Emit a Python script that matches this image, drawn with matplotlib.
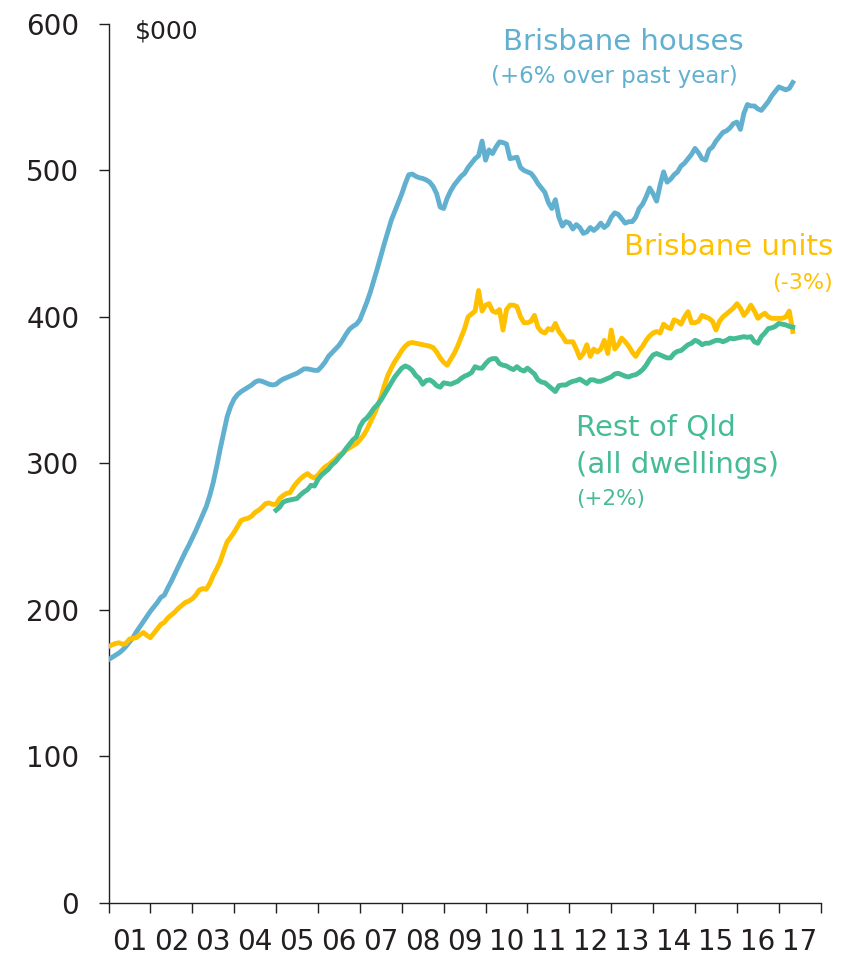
# plot.py
# Queensland median dwelling prices: Brisbane houses, Brisbane units, rest of Qld
import numpy as np
import matplotlib.pyplot as plt

plt.rcParams['font.family'] = ['DejaVu Sans']

# ── Data ($000, monthly, Jan 2001 – May 2017) ──
start_year = 2001
houses = [
    166, 167.5, 169, 170.5, 172.5, 175, 178, 181, 185, 188.5, 192, 195.5,          # 2001
    199, 202, 205, 208.5, 210, 215, 219.5, 224.5, 229.5, 234.5, 239.5, 244,        # 2002
    249, 254, 259.5, 265, 270.5, 278, 287, 298, 310, 321, 332, 339,                # 2003
    344, 347, 349, 350.5, 352, 353.5, 355.5, 356.5, 356, 355, 354, 353.5,          # 2004
    354, 356, 357.5, 358.5, 359.5, 360.5, 361.5, 363, 364.5, 364.5, 364, 363.5,    # 2005
    363.5, 366, 369, 373, 375.5, 378, 380.5, 384, 388, 391.5, 393.5, 395,          # 2006
    398, 404, 410, 417, 425, 433, 441.5, 450, 458, 466, 472, 478,                  # 2007
    484, 491, 497, 497.5, 496, 495, 494.5, 493.5, 492, 489, 484, 475,              # 2008
    474, 481, 486, 490, 493, 496, 498, 502, 505, 508, 510, 520,                    # 2009
    507, 514, 511.5, 516, 519.5, 519, 518, 508, 508.5, 509, 502, 500,              # 2010
    499, 498, 495, 491, 488, 485, 478, 474, 480, 468, 462, 465,                    # 2011
    464, 460, 463, 461, 457, 458, 461, 459, 461, 464, 461, 463,                    # 2012
    468, 471, 470, 467, 464, 465, 465, 468, 474, 477, 482, 488,                    # 2013
    484, 479, 490, 499, 492, 494, 497, 499, 503, 505, 508, 511,                    # 2014
    515, 512, 508, 507, 514, 516, 520, 523, 526, 527, 529, 532,                    # 2015
    533, 528, 539, 545, 544, 544, 542, 541, 544, 547, 551, 554,                    # 2016
    557, 556, 555, 556, 560,                                                       # 2017
]
units = [
    175, 176, 177, 177.5, 176.5, 177, 180, 180.5, 181, 183, 184.5, 182.5,          # 2001
    181, 184, 187, 190, 191.5, 194.5, 196.5, 198.5, 201, 203, 205, 206,            # 2002
    207.5, 210, 213.5, 214.5, 214, 218, 223.5, 228, 233, 240, 246.5, 249.5,        # 2003
    253, 257, 261, 262, 262.5, 264, 266.5, 268, 270, 272.5, 273, 272,              # 2004
    272, 276, 278, 279.5, 280, 284, 287, 289.5, 291.5, 293, 291, 290,              # 2005
    292, 295, 297.5, 299, 301, 303, 305.5, 307, 309, 310.5, 312, 313.5,            # 2006
    316, 319, 323, 328, 333, 338.5, 345, 353, 360, 365, 369.5, 373,                # 2007
    377, 380, 382, 382.5, 382, 381.5, 381, 380.5, 380, 379, 376, 372,              # 2008
    369, 367, 371, 375, 380, 386, 392, 400, 402, 404, 418, 404,                    # 2009
    408, 409, 404, 403, 405, 391, 405, 408, 408, 407, 400, 396,                    # 2010
    396, 397, 401, 393, 390, 389, 392, 391, 395.5, 390, 387, 383,                  # 2011
    383, 383, 378, 372, 375, 381, 373, 378, 376, 378, 384, 375,                    # 2012
    391, 378, 381, 385.5, 383, 380, 376, 373, 377, 380, 384, 387,                  # 2013
    389, 390, 389, 395, 393, 392, 398, 397, 395, 400, 403.5, 396,                  # 2014
    396, 397, 401, 400, 399, 397, 391, 397, 400, 402, 404, 406,                    # 2015
    409, 406, 401, 404, 408, 404, 399, 401, 402.5, 400, 399, 399,                  # 2016
    399, 399, 400, 404, 390,                                                       # 2017
]
# Rest of Qld series begins Jan 2005
rest_start_year = 2005
rest_qld = [
    268, 270, 273.5, 274.5, 275, 275.5, 276, 278.5, 280.5, 282, 285, 284.5,        # 2005
    289, 292, 294, 296, 299, 301, 304, 306.5, 310, 313, 316, 318,                  # 2006
    325, 329, 331, 334, 337.5, 340, 343, 347, 351, 355, 359, 362,                  # 2007
    365, 366.5, 365.5, 363.5, 360, 358, 354, 356.5, 357, 355.5, 353, 352,          # 2008
    355, 354.5, 354, 355, 356, 358, 359.5, 360.5, 362, 366, 365, 365,              # 2009
    368, 370.5, 371.5, 371.5, 368, 367, 366.5, 365, 364, 366, 364, 363,            # 2010
    365, 363, 361, 357, 355.5, 355, 353, 351, 349, 353, 353.5, 353.5,              # 2011
    355, 356, 356.5, 357.5, 356, 354.5, 357, 357, 356, 356, 357, 358,              # 2012
    359, 361, 361.5, 360.5, 359.5, 359, 360, 360.5, 362, 364, 367, 371,            # 2013
    374, 375, 374, 373, 372, 372, 375, 376.5, 377, 379, 381, 382,                  # 2014
    384, 383, 381, 382, 382, 383, 384, 384, 383, 384, 385.5, 385,                  # 2015
    385.5, 386, 386.5, 386, 386.5, 383, 382, 386.5, 389, 392, 392.5, 393.5,        # 2016
    395.5, 395, 394.5, 393.5, 393,                                                 # 2017
]
year_labels = ['01', '02', '03', '04', '05', '06', '07', '08', '09',
               '10', '11', '12', '13', '14', '15', '16', '17']

c_houses = '#62b0d0'
c_units = '#ffc000'
c_rest = '#45bb96'
c_axis = '#231f20'

t_main = start_year + np.arange(len(houses)) / 12
t_rest = rest_start_year + np.arange(len(rest_qld)) / 12

fig = plt.figure(figsize=(8.66, 9.58), dpi=100)
ax = fig.add_axes([0.1253, 0.0577, 0.8224, 0.9173])

ax.plot(t_main, houses, color=c_houses, lw=3.5, solid_joinstyle='round', zorder=3)
ax.plot(t_main, units, color=c_units, lw=3.5, solid_joinstyle='round', zorder=3)
ax.plot(t_rest, rest_qld, color=c_rest, lw=3.5, solid_joinstyle='round', zorder=4)

ax.set_xlim(2001, 2018)
ax.set_ylim(0, 600)

# axes styling
for s in ['top', 'right']:
    ax.spines[s].set_visible(False)
for s in ['left', 'bottom']:
    ax.spines[s].set_color(c_axis)
    ax.spines[s].set_linewidth(1.0)

ax.set_yticks(np.arange(0, 601, 100))
ax.tick_params(axis='y', direction='out', length=7, width=1, color=c_axis,
               labelsize=20, labelcolor=c_axis, pad=14)

years = np.arange(2001, 2019)
ax.set_xticks(years)
ax.set_xticklabels([])
ax.set_xticks(years[:-1] + 0.5, minor=True)
ax.set_xticklabels(year_labels, minor=True)
ax.tick_params(axis='x', which='major', direction='out', length=7, width=1, color=c_axis)
ax.tick_params(axis='x', which='minor', length=0, labelsize=20, labelcolor=c_axis, pad=18)

# annotations
ax.text(0.037, 0.991, '$000', transform=ax.transAxes, fontsize=18, color=c_axis,
        ha='left', va='center')
ax.text(0.723, 0.9795, 'Brisbane houses', transform=ax.transAxes, fontsize=21,
        color=c_houses, ha='center', va='center')
ax.text(0.71, 0.9407, '(+6% over past year)', transform=ax.transAxes, fontsize=16.5,
        color=c_houses, ha='center', va='center')
ax.text(1.017, 0.746, 'Brisbane units', transform=ax.transAxes, fontsize=21,
        color=c_units, ha='right', va='center')
ax.text(1.017, 0.705, '(-3%)', transform=ax.transAxes, fontsize=16,
        color=c_units, ha='right', va='center')
ax.text(0.657, 0.541, 'Rest of Qld', transform=ax.transAxes, fontsize=21,
        color=c_rest, ha='left', va='center')
ax.text(0.657, 0.498, '(all dwellings)', transform=ax.transAxes, fontsize=21,
        color=c_rest, ha='left', va='center')
ax.text(0.657, 0.459, '(+2%)', transform=ax.transAxes, fontsize=15.5,
        color=c_rest, ha='left', va='center')

fig.savefig('out.png', dpi=100, facecolor='white')
plt.close(fig)
